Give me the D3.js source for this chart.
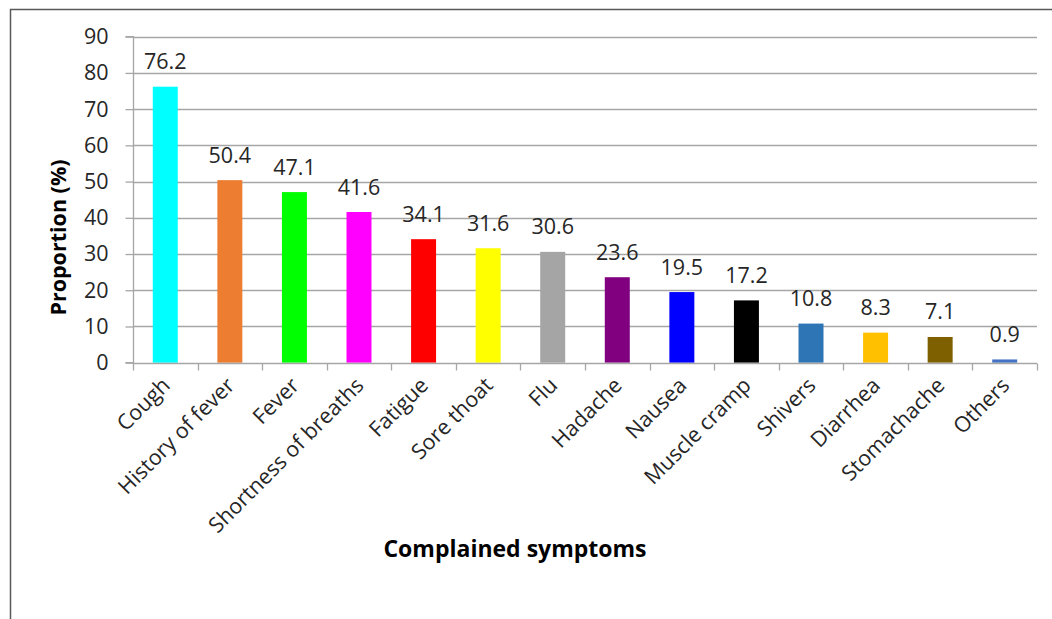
<!DOCTYPE html>
<html>
<head>
<meta charset="utf-8">
<script src="https://cdn.jsdelivr.net/npm/d3@7"></script>
<style>
html,body{margin:0;padding:0;background:#fff;}
svg{display:block;}
text{font-family:"Open Sans",sans-serif;}
</style>
</head>
<body>
<svg id="chart" width="1052" height="619"></svg>
<script>
const categories = ["Cough","History of fever","Fever","Shortness of breaths","Fatigue","Sore thoat","Flu","Hadache","Nausea","Muscle cramp","Shivers","Diarrhea","Stomachache","Others"];
const values = [76.2,50.4,47.1,41.6,34.1,31.6,30.6,23.6,19.5,17.2,10.8,8.3,7.1,0.9];
const colors = ["#00ffff","#ed7d31","#00ff00","#ff00ff","#ff0000","#ffff00","#a5a5a5","#800080","#0000ff","#000000","#2e75b6","#ffc000","#7f6000","#4472c4"];
const yTicks = [0,10,20,30,40,50,60,70,80,90];
const xTitle = "Complained symptoms";
const yTitle = "Proportion (%)";

const svg = d3.select("#chart");
const mLeft = 133, mRight = 1037, mTop = 36.7, mBottom = 362.7;

svg.append("rect").attr("x",10.5).attr("y",9.5).attr("width",1200).attr("height",800)
  .attr("fill","none").attr("stroke","#595959").attr("stroke-width",1.5);

const x = d3.scaleBand().domain(categories).range([mLeft,mRight]).paddingInner(0.613).paddingOuter(0.3065);
const y = d3.scaleLinear().domain([0,90]).range([mBottom,mTop]);

// gridlines
svg.append("g").selectAll("line").data(yTicks.filter(d=>d>0)).join("line")
  .attr("x1",mLeft).attr("x2",mRight)
  .attr("y1",d=>Math.round(y(d))+0.5).attr("y2",d=>Math.round(y(d))+0.5)
  .attr("stroke","#a6a6a6").attr("stroke-width",1.3);

// y axis
const yAxis = d3.axisLeft(y).tickValues(yTicks).tickSize(8).tickPadding(17).tickFormat(d3.format("d"));
const gy = svg.append("g").attr("transform",`translate(${mLeft+0.5},0)`).call(yAxis);
gy.select(".domain").attr("stroke","#a6a6a6").attr("stroke-width",1.3).attr("d",`M-8,${y(0)}H0V${y(90)}H-8`);
gy.selectAll(".tick line").attr("stroke","#a6a6a6").attr("stroke-width",1.3);
gy.selectAll(".tick text").attr("font-size","21.5px").attr("fill","#262626").attr("font-family","Open Sans");

// bars
svg.append("g").selectAll("rect").data(values).join("rect")
  .attr("x",(d,i)=>x(categories[i]))
  .attr("width",x.bandwidth())
  .attr("y",d=>y(d))
  .attr("height",d=>y(0)-y(d))
  .attr("fill",(d,i)=>colors[i]);

// x axis
const xb = d3.scaleLinear().domain([0,categories.length]).range([mLeft,mRight]);
const gx = svg.append("g").attr("transform",`translate(0,${Math.round(y(0))+0.5})`);
gx.append("line").attr("x1",mLeft).attr("x2",mRight).attr("stroke","#a6a6a6").attr("stroke-width",1.3);
gx.selectAll("line.tk").data(d3.range(categories.length+1)).join("line").attr("class","tk")
  .attr("x1",d=>Math.round(xb(d))+0.5).attr("x2",d=>Math.round(xb(d))+0.5)
  .attr("y1",0).attr("y2",7).attr("stroke","#a6a6a6").attr("stroke-width",1.3);

// category labels
svg.append("g").selectAll("text").data(categories).join("text")
  .attr("transform",d=>`translate(${x(d)+x.bandwidth()/2+6},${mBottom+24}) rotate(-45)`)
  .attr("text-anchor","end")
  .attr("font-size","21.5px").attr("fill","#262626")
  .text(d=>d);

// data labels
svg.append("g").selectAll("text").data(values).join("text")
  .attr("x",(d,i)=>x(categories[i])+x.bandwidth()/2)
  .attr("y",d=>y(d)-17.5)
  .attr("text-anchor","middle")
  .attr("font-size","21.5px").attr("fill","#262626")
  .text(d=>d.toFixed(1));

// axis titles
svg.append("text").attr("x",515).attr("y",557).attr("text-anchor","middle")
  .attr("font-size","23px").attr("font-weight","bold").attr("fill","#000").text(xTitle);
svg.append("text").attr("transform","translate(66,237.5) rotate(-90)").attr("text-anchor","middle")
  .attr("font-size","21.5px").attr("font-weight","bold").attr("fill","#000").text(yTitle);
</script>
</body>
</html>
